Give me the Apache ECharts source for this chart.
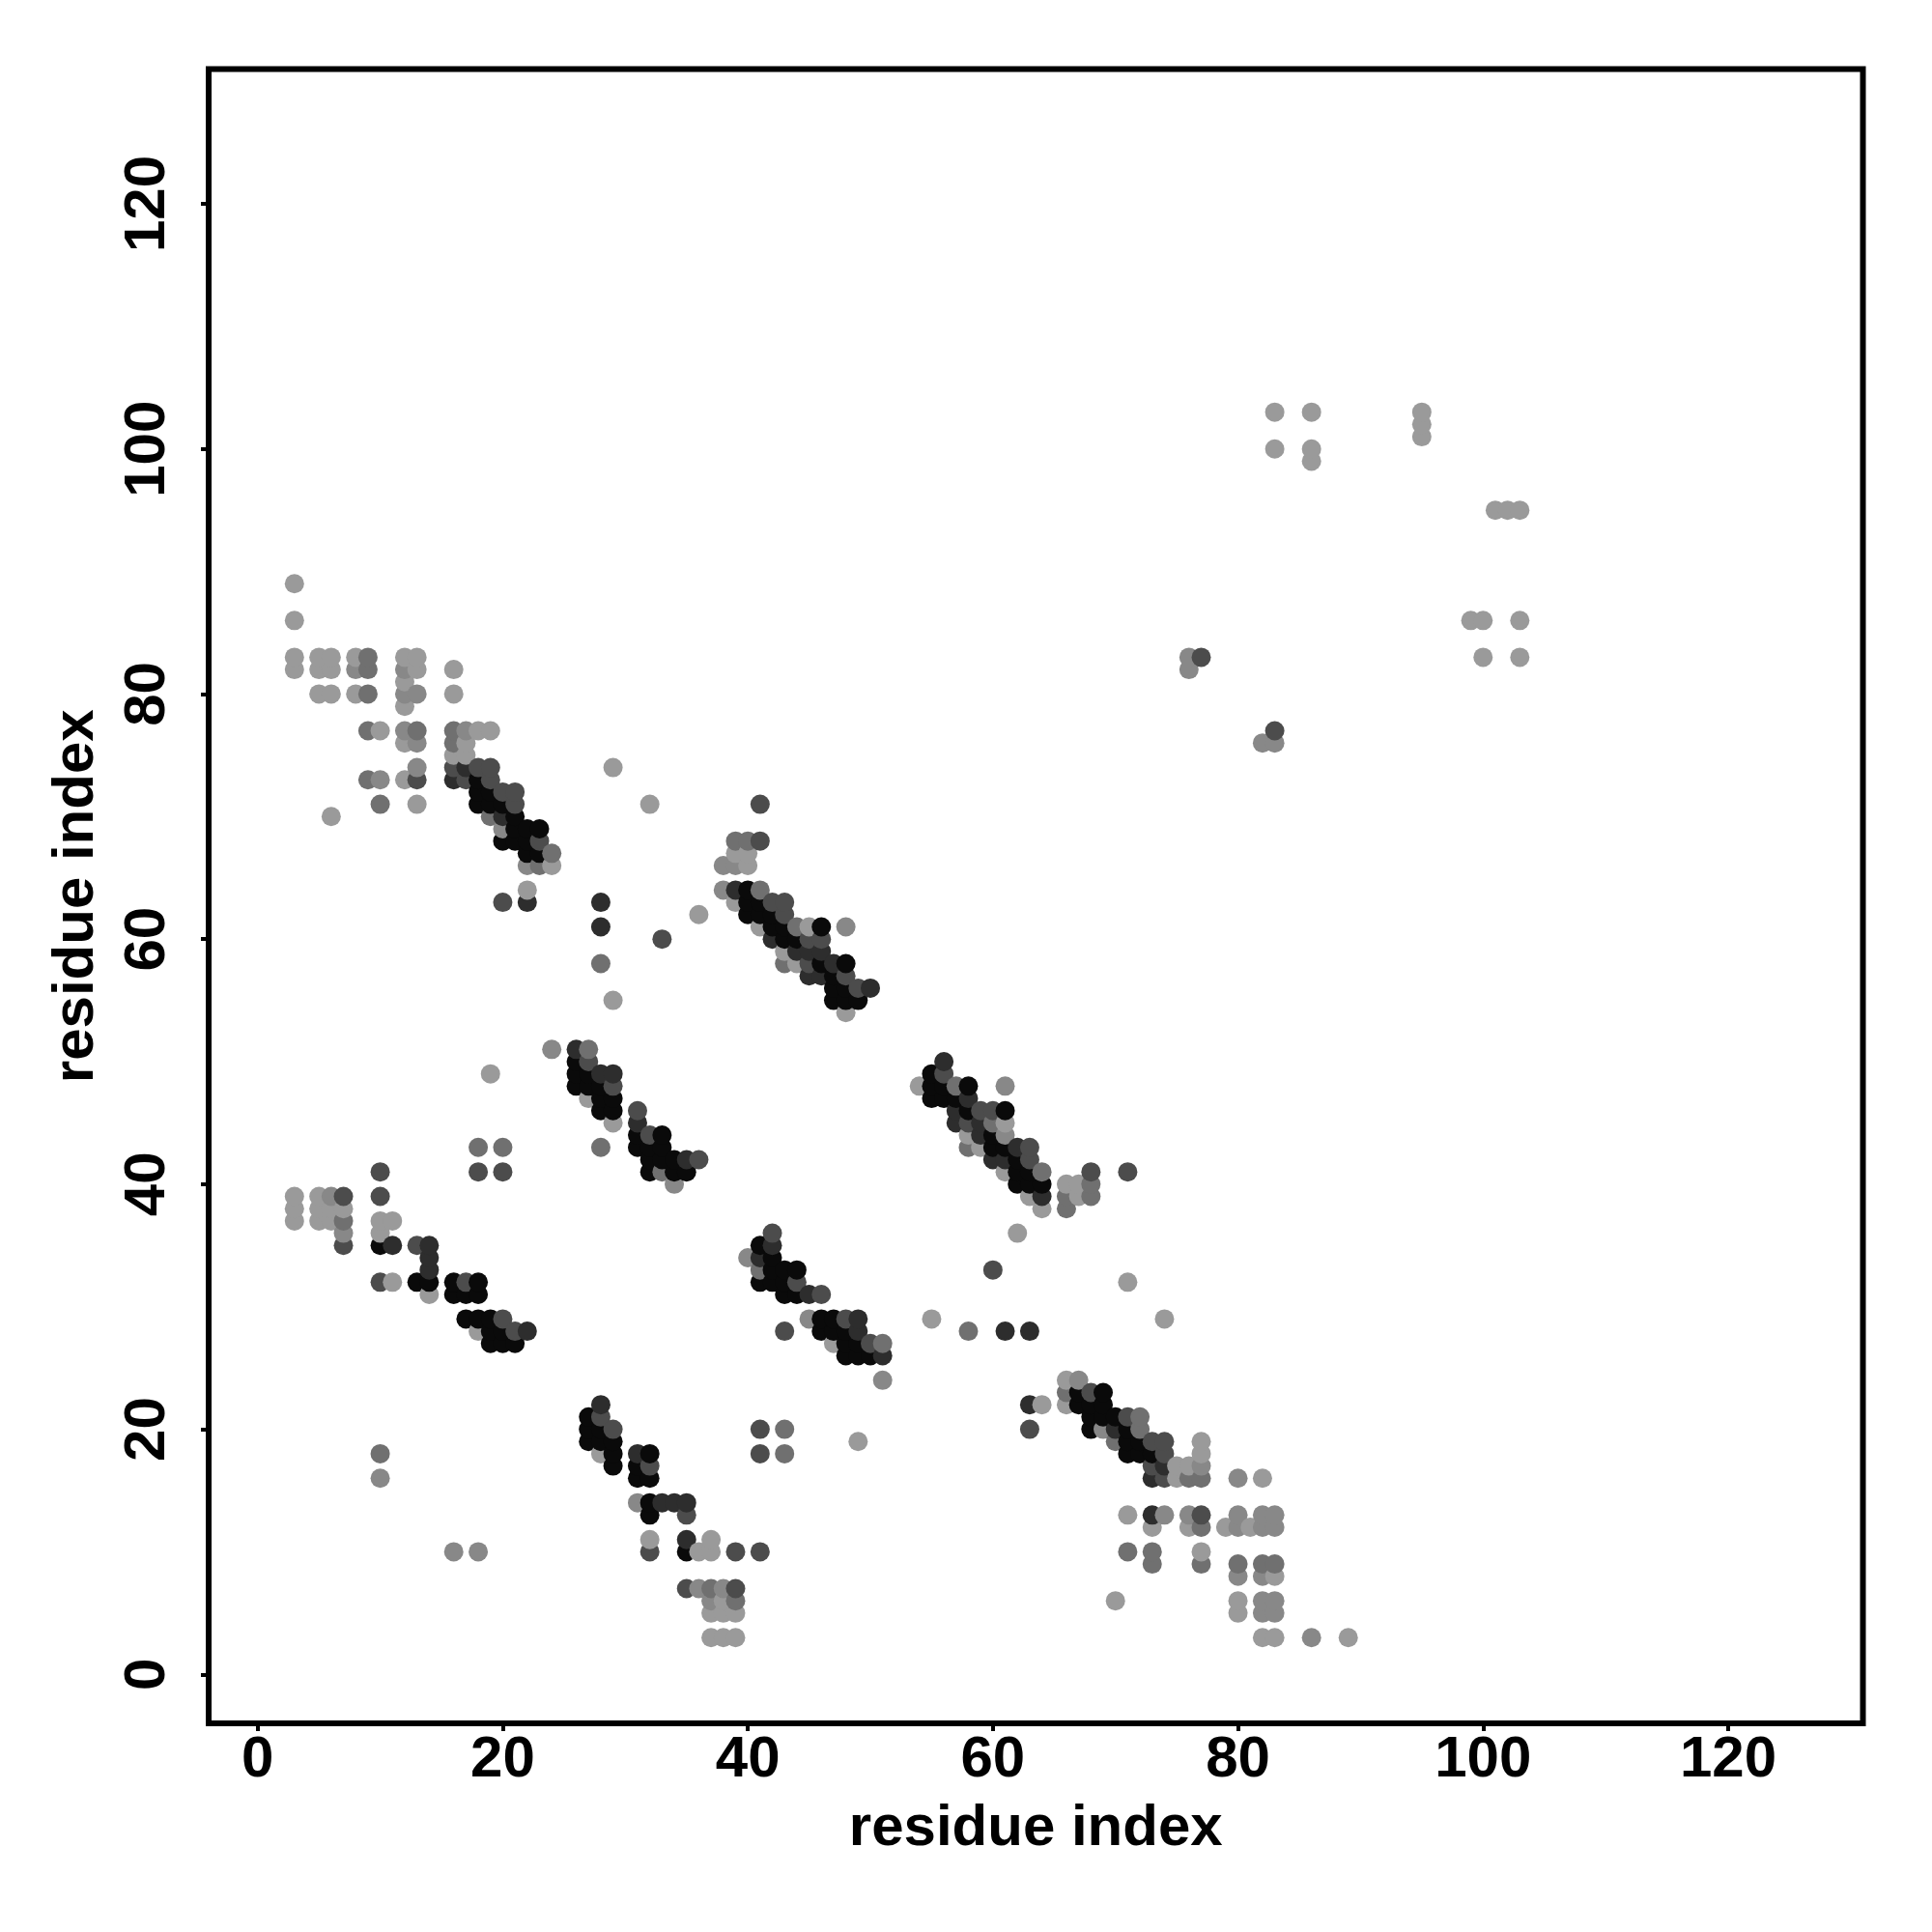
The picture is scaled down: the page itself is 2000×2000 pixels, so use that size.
<!DOCTYPE html>
<html><head><meta charset="utf-8">
<style>html,body{margin:0;padding:0;background:#fff}#c{width:2000px;height:2000px}</style>
<script src="https://cdn.jsdelivr.net/npm/echarts@6/dist/echarts.min.js"></script>
</head><body><div id="c"></div>
<script>
// Gray shades (contact strength as a gray value)
const L=154,M=136,N=112,P=76,Q=45,K=10;
const tickValues=[0,20,40,60,80,100,120];
const axisTitle="residue index";
const upperLeft=[[3,89,L],[3,86,L],[3,83,L],[3,82,L],[5,83,L],[5,82,L],[5,80,L],[6,83,L],[6,82,L],[6,80,L],[6,70,L],
[8,83,L],[8,82,M],[8,80,L],[9,83,N],[9,82,N],[9,80,N],[9,77,N],[10,77,L],[9,73,N],[10,73,M],[10,71,N],
[12,83,L],[12,82,M],[12,81,L],[12,80,M],[12,79,L],[12,77,M],[12,76,L],[12,73,L],
[13,83,L],[13,82,L],[13,80,M],[13,77,N],[13,76,M],[13,74,M],[13,73,P],[13,71,L],
[16,82,L],[16,80,L],[16,77,N],[16,76,N],[16,75,L],[16,74,P],[16,73,Q],
[17,77,M],[17,76,L],[17,75,L],[17,74,Q],[17,73,P],
[18,77,L],[18,74,P],[18,73,K],[18,72,K],[18,71,K],
[19,77,L],[19,74,P],[19,73,P],[19,72,K],[19,71,K],[19,70,N],
[20,72,P],[20,71,K],[20,70,Q],[20,69,M],[20,68,K],[20,63,P],
[21,72,P],[21,71,P],[21,70,K],[21,69,K],[21,68,K],
[22,69,K],[22,68,K],[22,67,K],[22,66,M],[22,64,L],[22,63,Q],
[23,69,K],[23,68,P],[23,67,K],[23,66,N],[24,67,N],[24,66,L]];
const lowerRight=[[63,20,P],[63,22,Q],[64,22,L],
[66,24,L],[66,23,N],[66,22,L],[67,24,M],[67,23,K],[67,22,K],[68,23,P],[68,22,K],[68,21,K],[68,20,K],
[69,23,K],[69,22,K],[69,21,K],[69,20,M],[70,21,K],[70,20,Q],[70,19,N],[71,21,P],[71,20,K],[71,19,K],[71,18,K],
[72,21,N],[72,20,N],[72,19,K],[72,18,K],[73,19,P],[73,18,K],[73,17,P],[73,16,Q],[74,19,P],[74,18,P],[74,17,Q],[74,16,P],
[75,17,L],[75,16,L],[76,17,L],[76,16,N],[77,19,L],[77,18,L],[77,17,M],[77,16,N],[80,16,M],[82,16,L],
[71,13,L],[73,13,Q],[74,13,M],[76,13,M],[77,13,P],[80,13,M],[82,13,M],[83,13,M],
[73,12,L],[76,12,L],[77,12,N],[79,12,L],[80,12,M],[81,12,L],[82,12,M],[83,12,M],
[71,10,N],[73,10,N],[77,10,L],[73,9,N],[77,9,N],[80,9,N],[82,9,N],[83,9,N],
[80,8,M],[82,8,M],[83,8,L],[70,6,L],[80,6,L],[82,6,M],[83,6,M],[80,5,L],[82,5,M],[83,5,M],
[82,3,L],[83,3,L],[86,3,M],[89,3,L]];
const strandUpper=[[41,71,P],[39,68,N],[40,68,N],[41,68,P],[39,67,L],[40,67,L],[38,66,M],[39,66,M],[40,66,L],
[38,64,M],[39,64,Q],[40,64,K],[41,64,N],[39,63,L],[40,63,K],[41,63,K],[42,63,P],[43,63,P],
[40,62,K],[41,62,K],[42,62,K],[43,62,P],[41,61,L],[42,61,K],[43,61,K],[44,61,N],[45,61,L],[46,61,K],[48,61,M],
[42,60,Q],[43,60,K],[44,60,K],[45,60,P],[46,60,P],[43,59,L],[44,59,Q],[45,59,Q],[46,59,Q],
[43,58,N],[44,58,L],[45,58,P],[46,58,K],[47,58,Q],[48,58,K],[45,57,Q],[46,57,Q],[47,57,K],[48,57,P],
[47,56,K],[48,56,K],[49,56,P],[50,56,Q],[47,55,K],[48,55,K],[49,55,K],[48,54,L]];
const strandUpperMirror=[[56,50,Q],[55,49,K],[56,49,P],[54,48,L],[55,48,K],[56,48,K],[57,48,N],[58,48,K],[61,48,M],
[55,47,K],[56,47,K],[57,47,K],[58,47,Q],[57,46,Q],[58,46,K],[59,46,P],[60,46,P],[61,46,K],
[57,45,Q],[58,45,P],[59,45,Q],[60,45,N],[61,45,L],[58,44,L],[59,44,Q],[60,44,K],[61,44,M],
[58,43,N],[59,43,L],[60,43,K],[61,43,K],[62,43,Q],[63,43,P],[60,42,Q],[61,42,Q],[62,42,K],[63,42,P],
[61,41,L],[62,41,K],[63,41,K],[64,41,N],[68,41,P],[71,41,P],[62,40,K],[63,40,K],[64,40,K],[66,40,L],[67,40,L],[68,40,N],
[63,39,L],[64,39,Q],[66,39,N],[67,39,L],[68,39,N],[64,38,L],[66,38,N],[62,36,L]];
const strandMiddle=[[24,51,M],[26,51,Q],[27,51,N],[26,50,K],[27,50,P],[26,49,K],[27,49,K],[28,49,Q],[29,49,Q],
[26,48,K],[27,48,K],[28,48,K],[29,48,P],[27,47,L],[28,47,K],[29,47,K],[28,46,K],[29,46,K],[29,45,L],
[31,46,P],[31,45,Q],[31,44,K],[32,44,P],[33,44,K],[31,43,K],[32,43,K],[33,43,K],[28,43,N],
[32,42,K],[33,42,K],[34,42,K],[35,42,Q],[36,42,P],[32,41,K],[33,41,N],[34,41,K],[35,41,K],[34,40,M]];
const strandMiddleMirror=[[42,36,P],[41,35,K],[42,35,Q],[40,34,M],[41,34,Q],[42,34,K],[41,33,N],[42,33,K],[43,33,K],[44,33,K],
[41,32,K],[42,32,K],[43,32,K],[44,32,P],[43,31,K],[44,31,K],[45,31,Q],[46,31,P],
[45,29,M],[46,29,K],[47,29,K],[48,29,P],[49,29,Q],[43,28,P],[46,28,K],[47,28,K],[48,28,K],[49,28,Q],
[47,27,L],[48,27,K],[49,27,K],[50,27,P],[51,27,N],[48,26,K],[49,26,K],[50,26,K],[51,26,Q],[51,24,M]];
const lowerLeft=[[3,39,L],[5,39,L],[6,39,M],[7,39,P],[10,41,P],[10,39,P],[18,43,N],[20,43,N],[18,41,P],[20,41,P],[19,49,L],
[3,38,L],[5,38,L],[6,38,L],[7,38,L],[3,37,L],[5,37,L],[6,37,L],[7,37,N],[10,37,L],[11,37,L],[7,36,M],[10,36,L],
[7,35,P],[10,35,K],[11,35,Q],[13,35,P],[14,35,Q],[14,34,Q],[14,33,Q],
[10,32,P],[11,32,L],[13,32,K],[14,32,K],[16,32,K],[17,32,P],[18,32,K],[14,31,L],[16,31,K],[17,31,K],[18,31,K],
[17,29,K],[18,29,K],[19,29,K],[20,29,P],[18,28,L],[19,28,K],[20,28,K],[21,28,P],[22,28,Q],[19,27,K],[20,27,K],[21,27,K],
[10,18,N],[10,16,M]];
const lowerMiddle=[[28,22,Q],[27,21,K],[28,21,P],[27,20,K],[28,20,K],[29,20,P],[27,19,K],[28,19,K],[29,19,K],
[28,18,L],[29,18,K],[31,18,Q],[32,18,K],[29,17,K],[31,17,K],[32,17,P],[31,16,K],[32,16,K],
[31,14,M],[32,14,K],[33,14,Q],[34,14,Q],[35,14,Q],[32,13,K],[35,13,P],[32,11,L],[35,11,Q],[37,11,L],
[32,10,P],[35,10,K],[36,10,L],[37,10,L],[39,10,P],[41,10,P],[16,10,M],[18,10,M],
[35,7,P],[36,7,M],[37,7,N],[38,7,M],[39,7,P],[37,6,M],[38,6,L],[39,6,N],[37,5,L],[38,5,L],[39,5,L],[37,3,L],[38,3,L],[39,3,L],
[41,20,P],[41,18,P],[43,20,N],[43,18,N],[49,19,L]];
const scattered=[[28,63,Q],[28,61,Q],[28,58,N],[29,55,L],[29,74,L],[32,71,L],[33,60,P],[36,62,L],
[63,28,Q],[61,28,Q],[58,28,N],[55,29,L],[74,29,L],[71,32,L],[60,33,P]];
const upperRight=[[76,83,M],[76,82,M],[77,83,P],[82,76,M],[83,76,M],[83,77,P],
[83,103,L],[83,100,L],[86,103,L],[86,100,L],[86,99,L],[95,103,L],[95,102,L],[95,101,L],
[99,86,L],[100,86,L],[103,86,L],[100,83,L],[103,83,L],[101,95,L],[102,95,L],[103,95,L]];

const points=[].concat(upperLeft,lowerRight,strandUpper,strandUpperMirror,strandMiddle,strandMiddleMirror,lowerLeft,lowerMiddle,scattered,upperRight)
  .sort((a,b)=>a[0]-b[0]||a[1]-b[1]);

const font='"Liberation Sans", Arial, sans-serif';
const mk=(extra)=>Object.assign({
  type:'value',min:-4,max:131,splitLine:{show:false},
  axisLine:{show:false,onZero:false},
  axisTick:{show:true,length:8,customValues:tickValues,lineStyle:{color:'#000',width:4}},
  name:axisTitle,nameLocation:'middle',
  nameTextStyle:{fontFamily:font,fontWeight:'bold',fontSize:60,color:'#000'}
},extra);
const chart=echarts.init(document.getElementById('c'),null,{renderer:'canvas',width:2000,height:2000});
chart.setOption({
  animation:false,backgroundColor:'#fff',
  grid:{left:216,top:71.5,width:1712.5,height:1712.5,show:true,borderColor:'#000',borderWidth:6,backgroundColor:'#fff'},
  xAxis:mk({nameGap:79,axisLabel:{customValues:tickValues,margin:8,fontFamily:font,fontWeight:'bold',fontSize:60,color:'#000',hideOverlap:false}}),
  yAxis:mk({nameGap:107,axisLabel:{customValues:tickValues,rotate:90,margin:33,fontFamily:font,fontWeight:'bold',fontSize:60,color:'#000',hideOverlap:false}}),
  series:[{type:'scatter',symbol:'circle',symbolSize:20,data:points,large:false,progressive:0,
    itemStyle:{opacity:1,color:p=>{const g=p.value[2];return 'rgb('+g+','+g+','+g+')';}},
    emphasis:{disabled:true},clip:false}]
});
</script></body></html>
